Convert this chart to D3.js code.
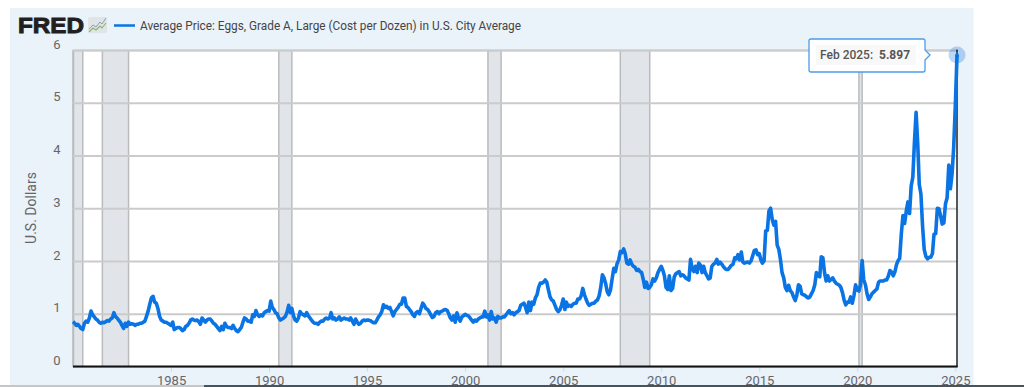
<!DOCTYPE html>
<html>
<head>
<meta charset="utf-8">
<script src="https://cdn.jsdelivr.net/npm/d3@7/dist/d3.min.js"></script>
<style>
  html, body { margin: 0; padding: 0; background: #fff; overflow: hidden; }
  svg { display: block; }
  text { font-family: Roboto, "Liberation Sans", sans-serif; }
</style>
</head>
<body>
<div id="chart"></div>
<script>
// monthly price per dozen, Jan 1980 onward
var prices1980s = [
  .85,.82,.78,.80,.76,.72,.70,.82,.86,.84,.92,1.05,
  .98,.94,.90,.88,.84,.82,.84,.83,.85,.87,.86,.90,
  .92,1.02,.95,.92,.88,.84,.78,.72,.82,.76,.84,.80,
  .81,.80,.78,.80,.80,.82,.82,.84,.86,.95,1.05,1.18,
  1.30,1.33,1.22,1.20,1.10,.95,.88,.86,.84,.84,.82,.80,
  .78,.84,.70,.72,.74,.74,.72,.68,.70,.76,.78,.82,
  .88,.90,.88,.87,.88,.85,.80,.92,.88,.84,.88,.90,
  .90,.86,.82,.80,.76,.72,.68,.76,.70,.82,.76,.74,
  .74,.72,.78,.72,.68,.66,.70,.74,.84,.92,.90,.86,
  .86,.84,.98,.95,1.06,.98,.95,.98,.96,1.02,1.04,1.06
];
var prices1990s = [
  1.05,1.24,1.12,1.08,1.02,1.00,.92,.88,.90,.92,.95,1.03,
  1.16,1.02,1.10,.96,.88,.86,.92,1.04,1.00,.98,.96,1.02,
  .96,.92,.88,.84,.82,.82,.80,.84,.86,.86,.90,.92,
  .90,.92,1.02,.90,.92,.88,.90,.94,.88,.90,.92,.90,
  .90,.88,.92,.86,.80,.90,.84,.80,.82,.86,.88,.87,
  .88,.88,.87,.85,.83,.83,.88,.94,.98,1.04,1.17,1.12,
  1.14,1.10,1.12,1.04,.96,1.04,1.08,1.12,1.18,1.18,1.30,1.30,
  1.14,1.12,1.08,1.04,.98,.95,1.02,1.04,1.00,1.10,1.20,1.16,
  1.10,1.08,1.04,.98,.93,.95,1.02,1.04,1.00,1.04,1.05,1.07,
  1.08,1.06,1.00,.92,.88,.96,.84,1.02,.92,.86,.94,.96
];
var prices2000s = [
  .99,.97,.96,.92,.88,.84,.88,.86,.90,.92,.94,.94,
  1.05,.94,.98,.88,1.04,.90,.92,.84,.95,.92,.92,.94,
  .94,.98,1.02,1.06,1.00,1.02,.98,1.02,1.04,1.06,1.16,1.18,
  1.20,1.12,1.02,1.22,1.06,1.22,1.18,1.30,1.36,1.50,1.58,1.58,
  1.60,1.64,1.60,1.45,1.32,1.26,1.24,1.16,1.08,1.04,1.08,1.16,
  1.28,1.08,1.22,1.14,1.16,1.14,1.18,1.20,1.20,1.28,1.28,1.34,
  1.48,1.36,1.28,1.20,1.16,1.18,1.20,1.20,1.24,1.26,1.34,1.50,
  1.74,1.68,1.58,1.42,1.36,1.45,1.66,1.86,1.80,1.95,2.02,2.18,
  2.16,2.23,2.14,1.96,1.94,2.02,1.94,1.90,1.88,1.82,1.84,1.80,
  1.78,1.65,1.50,1.60,1.48,1.50,1.55,1.66,1.62,1.68,1.78,1.84
];
var prices2010s = [
  1.90,1.82,1.72,1.50,1.46,1.72,1.44,1.48,1.70,1.76,1.78,1.80,
  1.72,1.74,1.72,1.68,1.66,1.64,2.03,1.85,1.80,1.90,1.78,1.96,
  1.92,1.78,1.90,1.78,1.72,1.66,1.68,1.90,1.94,1.96,2.03,1.94,
  1.98,1.94,1.90,1.86,1.84,1.84,1.88,1.92,1.94,2.06,2.04,2.12,
  2.02,2.17,1.98,1.96,1.97,1.98,1.96,2.00,2.10,2.20,2.21,2.12,
  2.14,2.02,1.96,2.00,2.57,2.58,2.95,3.00,2.78,2.68,2.75,2.30,
  2.22,2.02,1.78,1.68,1.50,1.44,1.54,1.44,1.40,1.32,1.25,1.35,
  1.55,1.52,1.38,1.36,1.35,1.32,1.30,1.32,1.38,1.44,1.55,1.78,
  1.72,1.70,2.08,2.06,1.78,1.62,1.72,1.62,1.65,1.68,1.62,1.58,
  1.56,1.54,1.50,1.40,1.26,1.17,1.22,1.22,1.32,1.20,1.35,1.55
];
var prices2020s = [
  1.45,1.43,1.55,2.01,1.64,1.55,1.38,1.27,1.32,1.38,1.41,1.44,
  1.47,1.60,1.62,1.62,1.62,1.64,1.64,1.71,1.82,1.79,1.72,1.79,
  1.93,2.01,2.05,2.52,2.86,2.71,2.94,3.12,2.90,3.42,3.59,4.25,
  4.82,4.21,3.45,3.27,2.67,2.22,2.09,2.04,2.07,2.07,2.14,2.51,
  2.52,3.00,2.99,2.86,2.70,2.72,3.08,3.20,3.82,3.37,3.65,4.15,
  4.95,5.897
];
var recessionStarts = ["1980-01", "1981-07", "1990-07", "2001-03", "2007-12", "2020-02"];
var recessionEnds = ["1980-07", "1982-11", "1991-03", "2001-11", "2009-06", "2020-04"];
var yTicks = [0, 1, 2, 3, 4, 5, 6];
var xTickYears = [1985, 1990, 1995, 2000, 2005, 2010, 2015, 2020, 2025];
var seriesTitle = "Average Price: Eggs, Grade A, Large (Cost per Dozen) in U.S. City Average";
var yTitle = "U.S. Dollars";

var width = 1024, height = 387;
var left = 73, right = 957, top_ = 50, bottom = 366.5;
var parseMonth = d3.utcParse("%Y-%m");

var prices = prices1980s.concat(prices1990s, prices2000s, prices2010s, prices2020s);
var months = d3.utcMonth.range(new Date(Date.UTC(1980, 0, 1)), new Date(Date.UTC(2025, 2, 1)));
var data = months.map(function(m, i) { return { date: m, value: prices[i] }; });

var x = d3.scaleUtc().domain([months[0], months[months.length - 1]]).range([left, right]);
var y = d3.scaleLinear().domain([0, 6]).range([bottom, top_]);

var svg = d3.select("#chart").append("svg").attr("width", width).attr("height", height);

// panel
svg.append("rect").attr("x", 10).attr("y", 8).attr("width", 963.5).attr("height", 377).attr("fill", "#eaf2fa");
svg.append("rect").attr("x", 0).attr("y", 385).attr("width", 204).attr("height", 2).attr("fill", "#c4c6c8");
svg.append("rect").attr("x", 204).attr("y", 385).attr("width", 820).attr("height", 2).attr("fill", "#46545e");
svg.append("rect").attr("x", left).attr("y", top_).attr("width", right - left).attr("height", bottom - top_).attr("fill", "#fff");

// recessions
var bands = svg.append("g").selectAll("g").data(recessionStarts).enter().append("g");
bands.append("rect")
  .attr("x", function(d) { return x(parseMonth(d)); })
  .attr("y", top_)
  .attr("width", function(d, i) { return x(parseMonth(recessionEnds[i])) - x(parseMonth(d)); })
  .attr("height", bottom - top_)
  .attr("fill", "#e1e5e9");
bands.selectAll("line").data(function(d, i) { return [d, recessionEnds[i]]; }).enter().append("line")
  .attr("x1", function(d) { return x(parseMonth(d)); })
  .attr("x2", function(d) { return x(parseMonth(d)); })
  .attr("y1", top_)
  .attr("y2", bottom)
  .attr("stroke", "#b9bbbd")
  .attr("stroke-width", 1.5);

// y axis with grid
var yAxis = d3.axisLeft(y).tickValues(yTicks).tickSize(-(right - left)).tickFormat(d3.format("d"));
var yG = svg.append("g").attr("transform", "translate(" + left + ",0)").call(yAxis);
yG.select(".domain").attr("stroke", "#b9bbbd").attr("stroke-width", 1.5);
yG.selectAll(".tick line").attr("stroke", "#cbcbcb").attr("stroke-width", 2);
yG.selectAll(".tick text")
  .attr("x", -12.5).attr("dy", "-0.15em")
  .attr("fill", "#666").style("font-size", "13px");

svg.append("line")
  .attr("x1", right).attr("x2", right).attr("y1", top_).attr("y2", bottom)
  .attr("stroke", "#222").attr("stroke-width", 1.5);

// x axis
var xAxis = d3.axisBottom(x)
  .tickValues(xTickYears.map(function(t) { return new Date(Date.UTC(t, 0, 1)); }))
  .tickSize(5).tickPadding(4.5).tickFormat(d3.utcFormat("%Y"));
var xG = svg.append("g").attr("transform", "translate(0," + bottom + ")").call(xAxis);
xG.select(".domain").remove();
xG.selectAll(".tick line").attr("stroke", "#cfd8e0");
xG.selectAll(".tick text").attr("fill", "#666").style("font-size", "13px");
svg.append("line")
  .attr("x1", left).attr("x2", right + 0.75).attr("y1", bottom).attr("y2", bottom)
  .attr("stroke", "#111").attr("stroke-width", 2);

svg.append("text")
  .attr("transform", "translate(36,208) rotate(-90)")
  .attr("text-anchor", "middle").attr("fill", "#666").style("font-size", "14px")
  .text(yTitle);

// series
var line = d3.line().x(function(d) { return x(d.date); }).y(function(d) { return y(d.value); });
svg.append("path").datum(data).attr("d", line)
  .attr("fill", "none").attr("stroke", "#0a74e4").attr("stroke-width", 3.6).attr("stroke-linejoin", "round");

// hover marker and tooltip
var last = data[data.length - 1];
svg.append("circle").attr("cx", x(last.date)).attr("cy", 55).attr("r", 8.5).attr("fill", "#0a74e4").attr("opacity", .28);
svg.append("circle").attr("cx", x(last.date)).attr("cy", 55.5).attr("r", 2).attr("fill", "#0a74e4");
svg.append("circle").attr("cx", x(last.date)).attr("cy", 50.5).attr("r", 1).attr("fill", "#333");

var tip = svg.append("g");
tip.append("path")
  .attr("d", "M811,39H923a2,2 0 0 1 2,2V50L930,55L925,60V70a2,2 0 0 1 -2,2H811a2,2 0 0 1 -2,-2V41a2,2 0 0 1 2,-2Z")
  .attr("fill", "#fff").attr("stroke", "#4a9de8").attr("stroke-width", 1.3);
tip.append("rect").attr("x", 816).attr("y", 45).attr("width", 100).attr("height", 20).attr("fill", "#f8f8f8");
tip.append("text").attr("x", 820).attr("y", 59).attr("fill", "#555").style("font-size", "12px").style("font-weight", 500)
  .text(d3.utcFormat("%b %Y")(last.date) + ":");
tip.append("text").attr("x", 879).attr("y", 59).attr("fill", "#555").style("font-size", "12px").style("font-weight", 700)
  .text(d3.format(".3f")(last.value));

// header
svg.append("text").attr("x", 18).attr("y", 33)
  .style("font-family", "'Liberation Sans', sans-serif").style("font-size", "21.5px").style("font-weight", 700)
  .attr("fill", "#231f20").attr("stroke", "#231f20").attr("stroke-width", .9)
  .attr("textLength", 66).attr("lengthAdjust", "spacingAndGlyphs")
  .text("FRED");
var icon = svg.append("g").attr("transform", "translate(88,17)");
icon.append("rect").attr("width", 19).attr("height", 16).attr("rx", 2).attr("fill", "#e0e4e6");
icon.append("path").attr("d", "M1,12L5,8L8,10L12,5L14,7L18,1").attr("fill", "none").attr("stroke", "#8aa0b0").attr("stroke-width", 1);
icon.append("path").attr("d", "M1,15L5,11L8,13L12,9L14,11L18,6").attr("fill", "none").attr("stroke", "#8fb06e").attr("stroke-width", 1.1);

svg.append("line").attr("x1", 114).attr("x2", 135).attr("y1", 25.5).attr("y2", 25.5)
  .attr("stroke", "#0a74e4").attr("stroke-width", 2.5);
svg.append("text").attr("x", 140).attr("y", 29.5)
  .attr("fill", "#444").style("font-size", "12.5px")
  .attr("textLength", 381).attr("lengthAdjust", "spacingAndGlyphs")
  .text(seriesTitle);
</script>
</body>
</html>
